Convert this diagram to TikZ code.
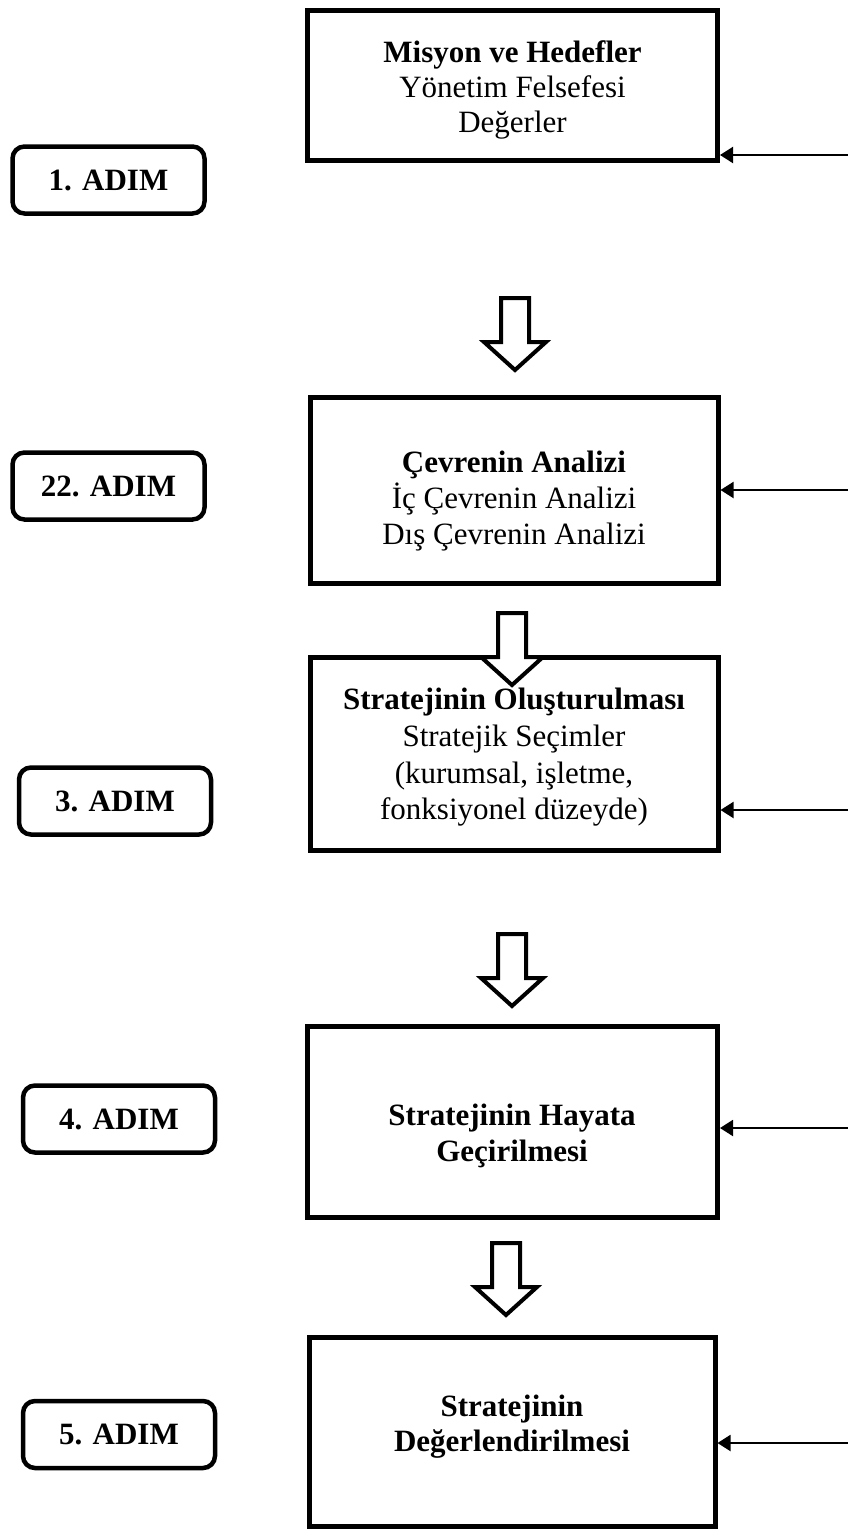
\documentclass[tikz,border=0pt]{standalone}
\usepackage{fontspec}
\setmainfont{Liberation Serif}
\usetikzlibrary{arrows.meta}
\begin{document}
\begin{tikzpicture}[x=1pt,y=-1pt,
  mainbox/.style={draw, line width=5pt, inner sep=0pt},
  stepbox/.style={draw, line width=4.5pt, rounded corners=12pt, minimum width=192pt, minimum height=67pt, inner sep=0pt, font=\bfseries\fontsize{31}{35.5}\selectfont},
  txt/.style={align=center, inner sep=0pt, font=\fontsize{31}{35.5}\selectfont},
  fb/.style={-{Triangle[length=13pt,width=16pt]}, line width=2pt},
  downarrow/.pic={\draw[line width=4pt, fill=white, line join=miter, miter limit=10]
     (-14,0) -- (14,0) -- (14,44) -- (31,44) -- (0,72) -- (-31,44) -- (-14,44) -- cycle;}]
\useasboundingbox (0,0) rectangle (848,1531);
% main boxes
\node[mainbox, minimum width=410pt, minimum height=150pt] (b1) at (512.5,85.5) {};
\node[mainbox, minimum width=408pt, minimum height=186pt] (b2) at (514,490) {};
\node[mainbox, minimum width=408pt, minimum height=193pt] (b3) at (514,754) {};
\node[mainbox, minimum width=410pt, minimum height=191pt] (b4) at (512.5,1122) {};
\node[mainbox, minimum width=406pt, minimum height=189pt] (b5) at (512,1432) {};
% step boxes
\node[stepbox] (s1) at (108.5,180) {1. ADIM};
\node[stepbox] (s2) at (108.5,486) {22. ADIM};
\node[stepbox] (s3) at (115,801) {3. ADIM};
\node[stepbox] (s4) at (119,1119) {4. ADIM};
\node[stepbox] (s5) at (119,1434.5) {5. ADIM};
% hollow arrows
\pic at (515,298) {downarrow};
\pic at (512,613) {downarrow};
\pic at (512,934) {downarrow};
\pic at (506,1243) {downarrow};
% texts
\node[txt, font=\fontsize{31}{35}\selectfont] (t1) at (512.5,89.5) {\textbf{Misyon ve Hedefler}\\Yönetim Felsefesi\\Değerler};
\node[txt, font=\fontsize{31}{36}\selectfont] (t2) at (514,501) {\textbf{Çevrenin Analizi}\\İç Çevrenin Analizi\\Dış Çevrenin Analizi};
\node[txt, font=\fontsize{31}{36.7}\selectfont] (t3) at (514,757.5) {\textbf{Stratejinin Oluşturulması}\\Stratejik Seçimler\\(kurumsal, işletme,\\fonksiyonel düzeyde)};
\node[txt, font=\bfseries\fontsize{31}{35.5}\selectfont] (t4) at (512,1136) {Stratejinin Hayata\\Geçirilmesi};
\node[txt, font=\bfseries\fontsize{31}{35.5}\selectfont] (t5) at (512,1426.5) {Stratejinin\\Değerlendirilmesi};
% feedback arrows
\coordinate (r1) at (848,155);
\coordinate (r2) at (848,490);
\coordinate (r3) at (848,810);
\coordinate (r4) at (848,1128);
\coordinate (r5) at (848,1443);
\draw[fb] (r1) -- (b1.east |- r1);
\draw[fb] (r2) -- (b2.east |- r2);
\draw[fb] (r3) -- (b3.east |- r3);
\draw[fb] (r4) -- (b4.east |- r4);
\draw[fb] (r5) -- (b5.east |- r5);
\end{tikzpicture}
\end{document}
